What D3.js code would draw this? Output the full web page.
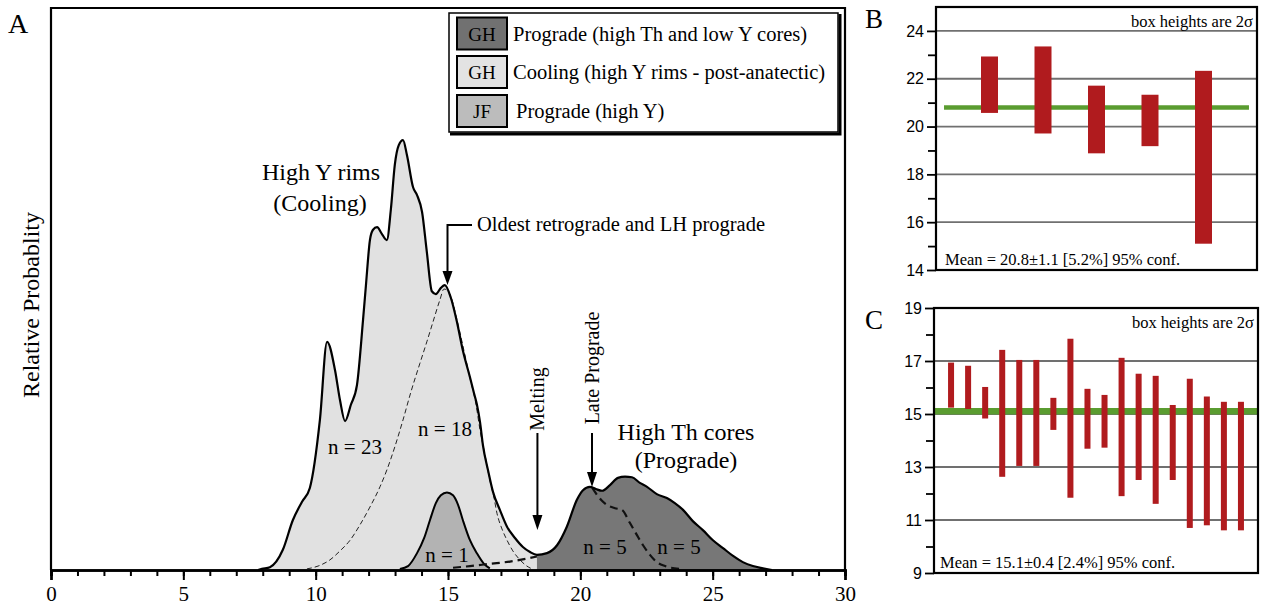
<!DOCTYPE html>
<html><head><meta charset="utf-8">
<script src="https://cdn.jsdelivr.net/npm/d3@7"></script>
<style>
html,body{margin:0;padding:0;background:#fff;}
svg{display:block;}
</style></head>
<body>
<svg id="chart" width="1261" height="605"></svg>
<script>
// ---------- Panel A data (age vs relative probability) ----------
const envelopeX = [7.82,7.97,8.27,8.76,9.14,9.48,9.78,10.16,10.43,10.73,10.92,11.11,11.33,11.56,11.79,11.90,12.05,12.16,12.32,12.50,12.69,12.84,12.99,13.14,13.30,13.45,13.68,13.83,14.02,14.20,14.39,14.54,14.73,14.88,15.11,15.34,15.56,15.83,15.98,16.09,16.21,16.32,16.51,16.70,16.96,17.23,17.53,17.83,18.10,18.36,18.74,19.12,19.49,19.87,20.10,20.36,20.59,20.82,21.12,21.42,21.69,21.95,22.25,22.52,22.89,23.27,23.57,23.88,24.25,24.63,25.01,25.39,25.77,26.14,26.52,26.90,27.24];
const envelopeY = [0,0.002,0.005,0.036,0.089,0.121,0.146,0.267,0.406,0.356,0.302,0.265,0.294,0.329,0.445,0.507,0.587,0.605,0.610,0.598,0.587,0.641,0.721,0.756,0.765,0.738,0.681,0.667,0.637,0.566,0.496,0.491,0.502,0.507,0.484,0.441,0.391,0.343,0.315,0.295,0.263,0.222,0.178,0.139,0.107,0.077,0.057,0.041,0.032,0.027,0.030,0.044,0.077,0.125,0.142,0.148,0.144,0.141,0.151,0.164,0.166,0.165,0.155,0.148,0.135,0.128,0.119,0.107,0.087,0.071,0.053,0.039,0.025,0.014,0.007,0.003,0];
const splitAge = 18.36;   // boundary between cooling and prograde fills

const n18X = [9.67,10.09,10.54,10.92,11.30,11.67,12.05,12.43,12.69,12.99,13.30,13.60,13.94,14.20,14.43,14.69,14.85,15.07,15.34,15.60,15.83,16.06,16.21,16.40,16.58,16.74,16.85,17.04,17.23,17.45,17.72,17.98,18.17];
const n18Y = [0.002,0.007,0.018,0.034,0.053,0.080,0.112,0.148,0.178,0.219,0.267,0.317,0.368,0.406,0.441,0.480,0.500,0.491,0.445,0.391,0.342,0.294,0.249,0.204,0.160,0.128,0.101,0.073,0.053,0.034,0.018,0.007,0.002];

const jfX = [13.18,13.49,13.83,14.10,14.32,14.54,14.73,14.96,15.19,15.38,15.56,15.83,16.09,16.36,16.58];
const jfY = [0.002,0.007,0.030,0.057,0.089,0.119,0.133,0.138,0.133,0.116,0.089,0.053,0.030,0.011,0.003];

const pro1TailX = [15.19,15.83,16.58,17.34,18.36];
const pro1TailY = [0.004,0.007,0.011,0.015,0.024];
const pro1DropX = [20.45,20.78,21.00,21.31,21.57,21.87,22.14,22.37,22.63,22.89,23.20,23.76];
const pro1DropY = [0.146,0.125,0.116,0.110,0.107,0.084,0.062,0.044,0.027,0.014,0.007,0.002];

const xMajorTicks = [0,5,10,15,20,25,30];
const xMinorTicks = d3.range(0,31,1);

const legendCodes = ["GH","GH","JF"];
const legendLabels = ["Prograde (high Th and low Y cores)","Cooling (high Y rims - post-anatectic)","Prograde (high Y)"];
const legendFills = ["#717171","#e3e3e3","#bcbcbc"];

// ---------- Panel B data ----------
const bLow  = [20.57,19.71,18.88,19.18,15.10];
const bHigh = [22.93,23.35,21.71,21.33,22.33];
const bMean = 20.8;
const bMajorTicks = [14,16,18,20,22,24];
const bMinorTicks = [15,17,19,21,23];
const bMeanText = "Mean = 20.8±1.1 [5.2%] 95% conf.";

// ---------- Panel C data ----------
const cLow  = [15.24,15.19,14.83,12.63,13.04,13.04,14.40,11.84,13.69,13.73,11.90,12.51,11.61,12.51,10.70,10.80,10.61,10.61];
const cHigh = [16.94,16.82,16.02,17.42,17.04,17.04,15.61,17.84,15.95,15.72,17.12,16.52,16.44,15.34,16.33,15.66,15.46,15.46];
const cMean = 15.1;
const cMajorTicks = [9,11,13,15,17,19];
const cMinorTicks = [10,12,14,16,18];
const cMeanText = "Mean = 15.1±0.4 [2.4%] 95% conf.";

// ================= drawing =================
const svg = d3.select("#chart");
const SERIF = '"Liberation Serif","Times New Roman",serif';
const SANS = '"Liberation Sans",Arial,sans-serif';

// ---- Panel A ----
const A = {left:51, right:845, top:8, bottom:570};
const x = d3.scaleLinear().domain([0,30]).range([A.left,A.right]);
const y = d3.scaleLinear().domain([0,1]).range([A.bottom,A.top]);

const zipP = (xs,ys)=>xs.map((v,i)=>[v,ys[i]]);
const env = zipP(envelopeX,envelopeY);
const area = d3.area().x(d=>x(d[0])).y0(y(0)).y1(d=>y(d[1])).curve(d3.curveMonotoneX);
const line = d3.line().x(d=>x(d[0])).y(d=>y(d[1])).curve(d3.curveMonotoneX);

const gA = svg.append("g");
gA.append("path").datum(env.filter(d=>d[0]<=splitAge)).attr("d",area).attr("fill","#e1e1e1");
gA.append("path").datum(env.filter(d=>d[0]>=splitAge)).attr("d",area).attr("fill","#777777");
gA.append("path").datum(zipP(jfX,jfY)).attr("d",area).attr("fill","#b3b3b3");
gA.append("path").datum(zipP(jfX,jfY)).attr("d",line).attr("fill","none").attr("stroke","#000").attr("stroke-width",2);
gA.append("path").datum(zipP(n18X,n18Y)).attr("d",line).attr("fill","none").attr("stroke","#222").attr("stroke-width",1).attr("stroke-dasharray","5,3");
gA.append("path").datum(zipP(pro1TailX,pro1TailY)).attr("d",line).attr("fill","none").attr("stroke","#111").attr("stroke-width",2.2).attr("stroke-dasharray","8,5");
gA.append("path").datum(zipP(pro1DropX,pro1DropY)).attr("d",line).attr("fill","none").attr("stroke","#111").attr("stroke-width",2.2).attr("stroke-dasharray","8,5");
gA.append("path").datum(env).attr("d",line).attr("fill","none").attr("stroke","#000").attr("stroke-width",2.2);

// axis
const axMinor = d3.axisBottom(x).tickValues(xMinorTicks).tickSize(6).tickFormat("");
const axMajor = d3.axisBottom(x).tickValues(xMajorTicks).tickSize(10).tickPadding(6).tickFormat(d3.format("d"));
const gAx1 = gA.append("g").attr("transform",`translate(0,${A.bottom})`).call(axMinor);
const gAx2 = gA.append("g").attr("transform",`translate(0,${A.bottom})`).call(axMajor);
[gAx1,gAx2].forEach(g=>{
  g.select(".domain").attr("stroke","#000").attr("stroke-width",2.5);
  g.selectAll(".tick line").attr("stroke","#000").attr("stroke-width",2);
});
gAx2.selectAll(".tick text").attr("font-family",SERIF).attr("font-size",21).attr("fill","#000");
// frame
gA.append("path").attr("d",`M${A.left},${A.bottom}V${A.top}H${A.right}V${A.bottom}`).attr("fill","none").attr("stroke","#000").attr("stroke-width",2.2);

// texts
const txt = (g,xx,yy,s,size,anchor="start",fam=SERIF)=>g.append("text").attr("x",xx).attr("y",yy).attr("font-family",fam).attr("font-size",size).attr("text-anchor",anchor).attr("fill","#000").text(s);
txt(gA,8,33,"A",28);
gA.append("text").attr("transform","translate(39,305) rotate(-90)").attr("text-anchor","middle").attr("font-family",SERIF).attr("font-size",24).text("Relative Probablity");
txt(gA,321,180,"High Y rims",24,"middle");
txt(gA,320,211,"(Cooling)",24,"middle");
txt(gA,686,440,"High Th cores",24,"middle");
txt(gA,686,468,"(Prograde)",24,"middle");
txt(gA,355,454,"n = 23",21,"middle");
txt(gA,445,436,"n = 18",21,"middle");
txt(gA,447,562,"n = 1",21,"middle");
txt(gA,605,554,"n = 5",21,"middle");
txt(gA,679,554,"n = 5",21,"middle");
txt(gA,477,231,"Oldest retrograde and LH prograde",20.5,"start");

// arrows
// oldest retrograde bracket
const px15 = x(15) - 0.5;
gA.append("path").attr("d",`M472,225H${px15}V271`).attr("fill","none").attr("stroke","#000").attr("stroke-width",2);
gA.append("path").attr("d",`M${px15-5},271H${px15+5}L${px15},285Z`).attr("fill","#000");
// melting
const pxMelt = x(splitAge)+0.5;
gA.append("line").attr("x1",pxMelt).attr("x2",pxMelt).attr("y1",433).attr("y2",516).attr("stroke","#000").attr("stroke-width",2);
gA.append("path").attr("d",`M${pxMelt-5},515H${pxMelt+5}L${pxMelt},530Z`).attr("fill","#000");
gA.append("text").attr("transform",`translate(${pxMelt+7},399) rotate(-90)`).attr("text-anchor","middle").attr("font-family",SERIF).attr("font-size",20).text("Melting");
// late prograde
const pxLate = 592;
gA.append("line").attr("x1",pxLate).attr("x2",pxLate).attr("y1",433).attr("y2",473).attr("stroke","#000").attr("stroke-width",2);
gA.append("path").attr("d",`M${pxLate-5},472H${pxLate+5}L${pxLate},487Z`).attr("fill","#000");
gA.append("text").attr("transform",`translate(${pxLate+7},368) rotate(-90)`).attr("text-anchor","middle").attr("font-family",SERIF).attr("font-size",20).text("Late Prograde");

// legend
const gL = gA.append("g");
gL.append("rect").attr("x",449).attr("y",13).attr("width",389).attr("height",119).attr("fill","#fff").attr("stroke","#000").attr("stroke-width",1.5);
gL.append("path").attr("d","M840,14V134H450").attr("fill","none").attr("stroke","#000").attr("stroke-width",3);
const rowTop = [17.5,56,95];
legendCodes.forEach((c,i)=>{
  gL.append("rect").attr("x",457).attr("y",rowTop[i]).attr("width",50).attr("height",32).attr("fill",legendFills[i]).attr("stroke","#000").attr("stroke-width",2);
  txt(gL,482,rowTop[i]+23,c,19,"middle");
  txt(gL,i===2?516:513,rowTop[i]+23,legendLabels[i],20.5,"start");
});

// ---- Panel B & C ----
function boxPanel(cfg){
  const g = svg.append("g");
  const xs = d3.scaleLinear().domain([0,cfg.low.length+1]).range([cfg.left,cfg.right]);
  const ys = d3.scaleLinear().domain(cfg.domain).range([cfg.bottom,cfg.top]);
  // gridlines
  g.selectAll("line.grid").data(cfg.major.filter(v=>v>cfg.domain[0] && v<cfg.domain[1])).join("line")
    .attr("x1",cfg.left).attr("x2",cfg.right).attr("y1",d=>ys(d)).attr("y2",d=>ys(d))
    .attr("stroke","#707070").attr("stroke-width",1.8);
  // mean line
  g.append("line").attr("x1",xs(cfg.meanFrom)).attr("x2",xs(cfg.low.length+1-cfg.meanFrom)).attr("y1",ys(cfg.mean)).attr("y2",ys(cfg.mean))
    .attr("stroke","#5a9c30").attr("stroke-width",cfg.meanW);
  // bars
  g.selectAll("rect.bar").data(cfg.low).join("rect")
    .attr("x",(d,i)=>xs(i+1)-cfg.barW/2).attr("width",cfg.barW)
    .attr("y",(d,i)=>ys(cfg.high[i])).attr("height",(d,i)=>ys(d)-ys(cfg.high[i]))
    .attr("fill","#b01b1e");
  // axes
  const axMaj = d3.axisLeft(ys).tickValues(cfg.major).tickSize(9).tickPadding(3).tickFormat(d3.format("d"));
  const axMin = d3.axisLeft(ys).tickValues(cfg.minor).tickSize(8).tickFormat("");
  const g1 = g.append("g").attr("transform",`translate(${cfg.left},0)`).call(axMin);
  const g2 = g.append("g").attr("transform",`translate(${cfg.left},0)`).call(axMaj);
  [g1,g2].forEach(a=>{a.select(".domain").remove(); a.selectAll(".tick line").attr("stroke","#000").attr("stroke-width",1.8);});
  g2.selectAll(".tick text").attr("font-family",SANS).attr("font-size",16).attr("fill","#000");
  // frame
  g.append("rect").attr("x",cfg.left).attr("y",cfg.top).attr("width",cfg.right-cfg.left).attr("height",cfg.bottom-cfg.top)
    .attr("fill","none").attr("stroke","#000").attr("stroke-width",2.2);
  txt(g,cfg.right-4,cfg.top+20,"box heights are 2σ",16.5,"end");
  txt(g,cfg.textX,cfg.bottom-5,cfg.meanText,16.5,"start");
  txt(g,865,cfg.top+cfg.labelDy,cfg.label,27,"start");
}
boxPanel({left:936,right:1257,top:7,bottom:270,domain:[14,25],low:bLow,high:bHigh,mean:bMean,major:bMajorTicks,minor:bMinorTicks,
  barW:17,meanW:4.5,meanFrom:0.15,meanText:bMeanText,textX:945,label:"B",labelDy:21});
boxPanel({left:934,right:1258,top:308,bottom:573,domain:[9,19],low:cLow,high:cHigh,mean:cMean,major:cMajorTicks,minor:cMinorTicks,
  barW:6,meanW:6.5,meanFrom:0,meanText:cMeanText,textX:940,label:"C",labelDy:21});
</script>
</body></html>
